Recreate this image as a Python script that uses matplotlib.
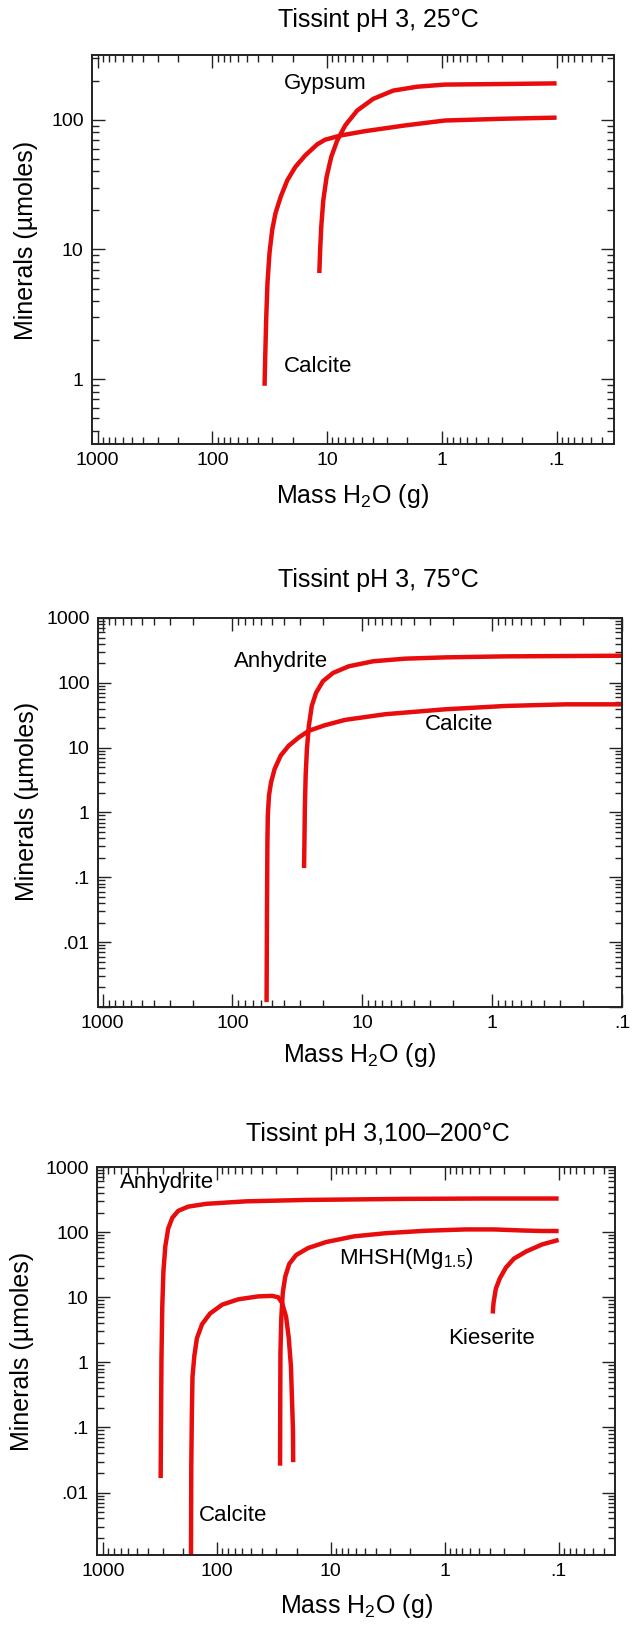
import numpy as np
import matplotlib
matplotlib.use("Agg")
import matplotlib.pyplot as plt
from matplotlib.ticker import FuncFormatter, LogLocator, NullFormatter

plt.rcParams['font.family'] = ['Liberation Sans', 'DejaVu Sans']
plt.rcParams['mathtext.fontset'] = 'custom'
plt.rcParams['mathtext.rm'] = 'Liberation Sans'
plt.rcParams['mathtext.it'] = 'Liberation Sans'

RED = '#e80c0c'

# ---- panel 1 : 25 C ----
calcite25_x = [35.1, 34.5, 33.9, 33.1, 31.8, 30.1, 28.2, 25.4, 22.2, 18.9, 15.5,
               12.2, 10.4, 7.54, 4.67, 2.10, 0.941, 0.283, 0.1]
calcite25_y = [0.889, 1.70, 3.06, 5.52, 9.37, 14.2, 19.0, 25.5, 34.3, 43.4, 53.2,
               64.7, 70.3, 75.9, 81.8, 90.5, 98.8, 102, 104]
gypsum25_x = [11.7, 11.5, 11.25, 10.8, 10.1, 9.21, 8.17, 6.96, 5.47, 3.97, 2.66,
              1.65, 0.94, 0.283, 0.1]
gypsum25_y = [6.58, 9.94, 15.0, 24.0, 36.3, 51.7, 69.3, 90.5, 118, 145, 168,
              180, 187, 189, 191]

# ---- panel 2 : 75 C ----
calcite75_x = [54.6, 54.2, 53.8, 53.4, 52.3, 50.4, 47.3, 42.5, 36.9, 30.8, 25.8,
               19.4, 13.6, 6.66, 2.29, 0.785, 0.269, 0.1]
calcite75_y = [0.00119, 0.034, 0.356, 0.91, 1.84, 2.94, 4.71, 7.55, 10.7, 14.4, 18.2,
               22.2, 26.8, 32.8, 39.1, 44.0, 46.6, 46.6]
anhyd75_x = [28.1, 27.9, 27.7, 27.3, 26.7, 25.8, 24.5, 22.7, 20.1, 16.8, 12.7,
             8.25, 4.67, 2.29, 0.785, 0.269, 0.1]
anhyd75_y = [0.139, 0.356, 1.15, 3.73, 9.54, 21.7, 44.0, 70.3, 106, 142, 180,
             215, 236, 247, 256, 259, 262]

# ---- panel 3 : 100-200 C ----
anhyd200_x = [312, 310, 307, 302, 295, 284, 268, 247, 219, 179, 124, 55.4, 16.5,
              2.19, 0.435, 0.1]
anhyd200_y = [0.0167, 0.0905, 1.10, 7.23, 25.2, 60.6, 113, 165, 212, 246, 272, 297,
              312, 324, 328, 328]
calcite200_x = [169, 168, 166, 164, 158, 150, 135, 115, 90.0, 65.2, 43.5, 32.8,
                29.0, 26.8, 24.7, 23.4, 22.4, 21.9, 21.5, 21.4]
calcite200_y = [0.0011, 0.0259, 0.169, 0.591, 1.25, 2.34, 3.86, 5.62, 7.69, 9.27,
                10.3, 10.5, 10.0, 8.19, 4.97, 2.34, 0.861, 0.246, 0.0905, 0.0293]
mhsh200_x = [27.9, 27.8, 27.7, 27.2, 26.4, 25.1, 23.2, 20.2, 15.85, 11.0, 6.26,
             3.28, 1.46, 0.652, 0.370, 0.210, 0.140, 0.1]
mhsh200_y = [0.0259, 0.316, 1.42, 4.97, 11.9, 20.9, 32.4, 44.4, 56.9, 70.4, 86.1,
             96.3, 105, 110, 110, 106, 104, 104]
kies200_x = [0.379, 0.373, 0.356, 0.328, 0.290, 0.247, 0.194, 0.140, 0.1]
kies200_y = [5.62, 8.19, 13.5, 19.6, 28.6, 39.1, 50.2, 64.6, 75.9]

titles = ['Tissint pH 3, 25°C', 'Tissint pH 3, 75°C', 'Tissint pH 3,100–200°C']


def fmt(v, pos):
    if v < 0.005:
        return ''
    if v >= 1:
        return '%d' % round(v)
    s = ('%g' % v)
    return s[1:] if s.startswith('0') else s


def style(ax, xlim, ylim):
    ax.set_xscale('log')
    ax.set_yscale('log')
    ax.set_xlim(*xlim)
    ax.set_ylim(*ylim)
    ax.xaxis.set_major_locator(LogLocator(base=10, numticks=20))
    ax.yaxis.set_major_locator(LogLocator(base=10, numticks=20))
    ax.xaxis.set_minor_locator(LogLocator(base=10, subs=np.arange(2, 10), numticks=20))
    ax.yaxis.set_minor_locator(LogLocator(base=10, subs=np.arange(2, 10), numticks=20))
    ax.xaxis.set_major_formatter(FuncFormatter(fmt))
    ax.yaxis.set_major_formatter(FuncFormatter(fmt))
    ax.xaxis.set_minor_formatter(NullFormatter())
    ax.yaxis.set_minor_formatter(NullFormatter())
    ax.tick_params(which='both', direction='in', top=True, right=True,
                   labelsize=14, width=1, color='#222222')
    ax.tick_params(which='major', length=9.5, pad=6)
    ax.tick_params(which='minor', length=5)
    for sp in ax.spines.values():
        sp.set_linewidth(1.4)
        sp.set_color('#222222')


W, H = 632, 1625
fig = plt.figure(figsize=(W / 100, H / 100), dpi=100)


def add_axes(l, r, t, b):
    return fig.add_axes([l / W, 1 - b / H, (r - l) / W, (b - t) / H])


ax1 = add_axes(92, 614, 55, 444)
ax2 = add_axes(98, 622, 618, 1007)
ax3 = add_axes(97, 615, 1167, 1555)

kw = dict(color=RED, lw=3.2, solid_capstyle='butt', solid_joinstyle='round')
tkw = dict(fontsize=16, va='center')

ax1.plot(calcite25_x, calcite25_y, **kw)
ax1.plot(gypsum25_x, gypsum25_y, **kw)
style(ax1, (1120, 0.0316), (10 ** -0.5, 10 ** 2.5))
ax1.text(24, 190, 'Gypsum', **tkw)
ax1.text(24, 1.26, 'Calcite', **tkw)

ax2.plot(calcite75_x, calcite75_y, **kw)
ax2.plot(anhyd75_x, anhyd75_y, **kw)
style(ax2, (1085, 0.1), (0.001, 1000))
ax2.text(98, 214, 'Anhydrite', **tkw)
ax2.text(3.31, 23, 'Calcite', **tkw)

ax3.plot(anhyd200_x, anhyd200_y, **kw)
ax3.plot(calcite200_x, calcite200_y, **kw)
ax3.plot(mhsh200_x, mhsh200_y, **kw)
ax3.plot(kies200_x, kies200_y, **kw)
style(ax3, (1130, 0.032), (0.0011, 1000))
ax3.text(706, 577, 'Anhydrite', **tkw)
ax3.text(8.5, 39, 'MHSH(Mg$_{1.5}$)', **tkw)
ax3.text(0.94, 2.35, 'Kieserite', **tkw)
ax3.text(143, 0.0045, 'Calcite', **tkw)

for t, ty in zip(titles, [20, 580, 1134]):
    fig.text(378 / W, 1 - ty / H, t, fontsize=18, ha='center', va='center')
for xx, xl in zip([352, 359, 356], [496, 1055, 1606]):
    fig.text(xx / W, 1 - xl / H, 'Mass H$_2$O (g)', fontsize=18, ha='center', va='center')
for yl, yc in zip([26, 27, 22], [240, 801, 1351]):
    fig.text(yl / W, 1 - yc / H, 'Minerals (µmoles)', fontsize=18, rotation=90,
             ha='center', va='center')

fig.savefig('out.png', dpi=100)
